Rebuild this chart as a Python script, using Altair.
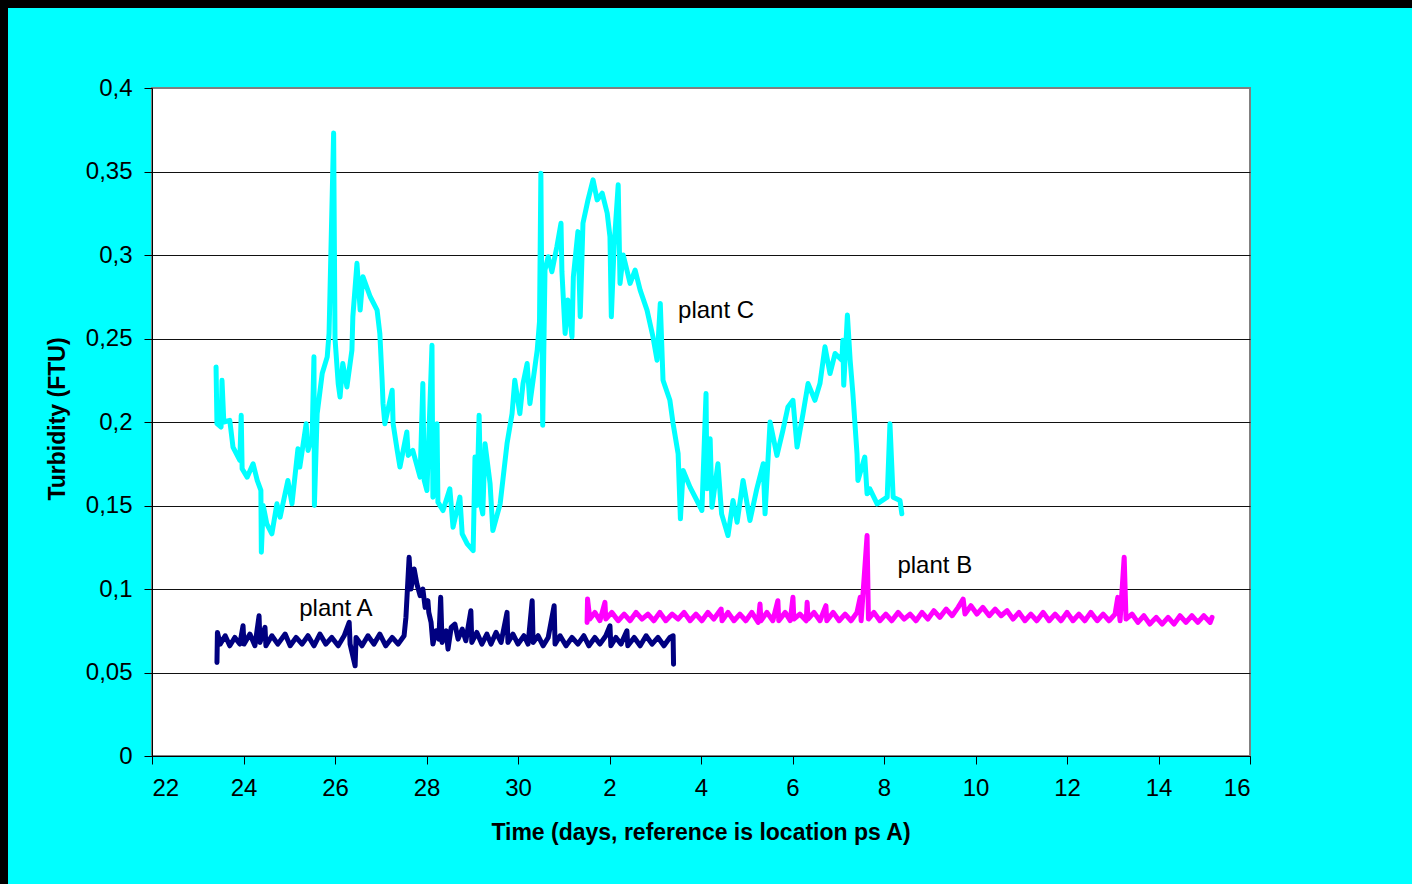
import altair as alt
import pandas as pd

# ---- data (x = day, linear scale; days past 30 wrap to the next month) ----
plant_c = [
    (23.40, .233), (23.42, .199), (23.51, .197), (23.53, .225), (23.57, .200), (23.70, .201), (23.77, .185), (23.92, .177), (23.95, .204), (23.97, .172),
    (24.08, .167), (24.21, .175), (24.30, .165), (24.38, .159), (24.39, .122), (24.43, .150), (24.51, .139), (24.62, .133), (24.73, .151), (24.80, .143),
    (24.97, .165), (25.06, .151), (25.19, .184), (25.23, .173), (25.37, .199), (25.41, .183), (25.50, .191), (25.54, .239), (25.55, .150), (25.61, .205),
    (25.72, .229), (25.83, .239), (25.87, .253), (25.97, .373), (26.00, .250), (26.07, .223), (26.11, .215), (26.17, .235), (26.26, .221), (26.37, .243),
    (26.39, .263), (26.48, .295), (26.55, .267), (26.61, .287), (26.77, .275), (26.92, .267), (26.98, .253), (27.03, .225), (27.05, .211), (27.09, .199),
    (27.25, .219), (27.27, .199), (27.36, .183), (27.42, .173), (27.57, .194), (27.60, .180), (27.70, .183), (27.86, .167), (27.92, .223), (27.95, .165),
    (28.01, .159), (28.12, .246), (28.14, .155), (28.23, .199), (28.25, .152), (28.36, .147), (28.51, .160), (28.58, .137), (28.73, .155), (28.78, .133),
    (28.89, .127), (29.02, .123), (29.06, .179), (29.10, .150), (29.15, .204), (29.19, .150), (29.23, .145), (29.28, .187), (29.39, .163), (29.45, .135),
    (29.61, .151), (29.76, .187), (29.87, .205), (29.93, .225), (30.04, .205), (30.11, .223), (30.20, .235), (30.26, .211), (30.33, .225), (30.42, .243),
    (30.47, .260), (30.50, .349), (30.54, .198), (30.59, .291), (30.66, .299), (30.74, .290), (30.85, .305), (30.94, .319), (30.96, .290), (31.03, .253),
    (31.09, .273), (31.18, .251), (31.21, .287), (31.31, .314), (31.36, .263), (31.42, .319), (31.53, .333), (31.64, .345), (31.73, .333), (31.84, .337),
    (31.95, .325), (32.01, .311), (32.04, .263), (32.10, .305), (32.19, .342), (32.23, .283), (32.30, .300), (32.38, .291), (32.45, .283), (32.56, .291),
    (32.67, .279), (32.82, .267), (32.95, .251), (33.04, .237), (33.11, .271), (33.17, .225), (33.32, .213), (33.39, .199), (33.50, .181), (33.55, .142),
    (33.61, .171), (33.76, .161), (33.91, .153), (34.02, .147), (34.11, .217), (34.13, .160), (34.20, .190), (34.24, .149), (34.37, .175), (34.45, .145),
    (34.59, .132), (34.70, .153), (34.79, .140), (34.92, .165), (35.07, .141), (35.22, .160), (35.36, .175), (35.40, .145), (35.51, .200), (35.66, .180),
    (35.79, .195), (35.90, .209), (36.01, .213), (36.10, .185), (36.23, .205), (36.34, .223), (36.49, .213), (36.60, .223), (36.71, .245), (36.82, .229),
    (36.93, .241), (37.08, .237), (37.10, .249), (37.12, .222), (37.20, .264), (37.26, .237), (37.32, .217), (37.41, .181), (37.43, .165), (37.58, .179),
    (37.63, .157), (37.69, .160), (37.85, .151), (38.07, .155), (38.13, .199), (38.20, .155), (38.35, .153), (38.39, .145),
]

plant_a = [
    (23.42, .056), (23.43, .074), (23.49, .067), (23.60, .072), (23.70, .066), (23.81, .071), (23.92, .067), (23.99, .078), (24.01, .067), (24.14, .073),
    (24.25, .066), (24.34, .084), (24.36, .068), (24.47, .077), (24.49, .066), (24.62, .072), (24.75, .067), (24.91, .073), (25.02, .066), (25.15, .071),
    (25.28, .067), (25.41, .072), (25.54, .066), (25.67, .073), (25.80, .067), (25.93, .071), (26.07, .066), (26.20, .072), (26.31, .080), (26.33, .067),
    (26.44, .054), (26.46, .071), (26.59, .066), (26.72, .072), (26.85, .067), (26.98, .073), (27.11, .066), (27.25, .071), (27.38, .067), (27.51, .072),
    (27.55, .083), (27.62, .119), (27.66, .100), (27.73, .112), (27.79, .103), (27.86, .096), (27.92, .100), (27.97, .089), (28.03, .093), (28.05, .086),
    (28.10, .080), (28.14, .067), (28.21, .075), (28.27, .070), (28.31, .095), (28.34, .068), (28.43, .075), (28.47, .064), (28.54, .077), (28.62, .079),
    (28.69, .070), (28.78, .076), (28.86, .069), (28.97, .087), (28.99, .068), (29.10, .074), (29.21, .067), (29.32, .073), (29.41, .067), (29.52, .074),
    (29.63, .068), (29.76, .086), (29.78, .068), (29.89, .073), (30.00, .067), (30.13, .072), (30.22, .067), (30.31, .093), (30.33, .068), (30.44, .072),
    (30.55, .066), (30.66, .071), (30.79, .090), (30.81, .067), (30.92, .072), (31.05, .066), (31.18, .071), (31.31, .067), (31.44, .072), (31.55, .066),
    (31.68, .071), (31.79, .067), (31.92, .072), (32.01, .078), (32.03, .066), (32.14, .071), (32.25, .067), (32.38, .075), (32.40, .066), (32.54, .071),
    (32.67, .066), (32.80, .072), (32.93, .067), (33.06, .071), (33.19, .066), (33.32, .071), (33.39, .072), (33.40, .055),
]

plant_b = [
    (31.51, .080), (31.52, .094), (31.57, .082), (31.68, .086), (31.79, .081), (31.90, .092), (31.92, .082), (32.05, .086), (32.19, .081), (32.32, .085),
    (32.45, .081), (32.58, .086), (32.71, .082), (32.84, .085), (32.97, .081), (33.10, .086), (33.23, .081), (33.37, .085), (33.50, .082), (33.63, .086),
    (33.76, .081), (33.89, .085), (34.02, .081), (34.15, .086), (34.28, .082), (34.44, .088), (34.46, .081), (34.59, .086), (34.72, .081), (34.85, .085),
    (34.98, .081), (35.11, .086), (35.25, .080), (35.29, .091), (35.31, .081), (35.44, .086), (35.57, .081), (35.68, .093), (35.70, .081), (35.84, .086),
    (35.95, .081), (36.01, .095), (36.03, .082), (36.16, .085), (36.30, .081), (36.32, .092), (36.34, .082), (36.47, .086), (36.60, .081), (36.73, .090),
    (36.75, .081), (36.89, .086), (37.02, .081), (37.15, .085), (37.28, .081), (37.41, .086), (37.48, .095), (37.50, .081), (37.63, .132), (37.66, .082),
    (37.78, .086), (37.91, .081), (38.04, .085), (38.17, .081), (38.31, .086), (38.44, .082), (38.57, .085), (38.70, .081), (38.83, .086), (38.96, .082),
    (39.09, .087), (39.22, .083), (39.36, .088), (39.49, .084), (39.62, .089), (39.73, .094), (39.77, .085), (39.90, .090), (40.03, .085), (40.16, .089),
    (40.30, .084), (40.43, .088), (40.56, .084), (40.69, .087), (40.82, .082), (40.95, .086), (41.08, .081), (41.21, .085), (41.34, .081), (41.48, .086),
    (41.61, .081), (41.74, .085), (41.87, .081), (42.00, .086), (42.13, .081), (42.26, .085), (42.39, .081), (42.52, .086), (42.66, .081), (42.79, .085),
    (42.92, .081), (43.05, .085), (43.11, .095), (43.16, .081), (43.25, .119), (43.29, .082), (43.42, .085), (43.55, .080), (43.68, .084), (43.81, .079),
    (43.95, .083), (44.08, .079), (44.21, .083), (44.34, .079), (44.47, .084), (44.60, .080), (44.73, .084), (44.86, .080), (44.99, .084), (45.13, .080),
    (45.17, .083),
]

label_text = ["plant C", "plant A", "plant B"]
label_x = [34.33, 26.02, 39.11]
label_y = [0.2665, 0.088, 0.1138]

x_ticks = [22, 24, 26, 28, 30, 32, 34, 36, 38, 40, 42, 44, 46]
y_ticks = [0, 0.05, 0.1, 0.15, 0.2, 0.25, 0.3, 0.35, 0.4]

x_title = "Time (days, reference is location ps A)"
y_title = "Turbidity (FTU)"

FONT = "Liberation Sans"

rows = []
for name, pts in [("C", plant_c), ("B", plant_b), ("A", plant_a)]:
    for i, (d, v) in enumerate(pts):
        rows.append({"plant": name, "i": i, "day": d, "turb": v})
df = pd.DataFrame(rows)

x_scale = alt.Scale(domain=[22, 46], nice=False, zero=False)
y_scale = alt.Scale(domain=[0, 0.4], nice=False)

x_axis = alt.Axis(
    values=x_ticks,
    labelExpr="datum.value > 30 ? datum.value - 30 : datum.value",
    grid=False,
    title=None,
    labelFont=FONT, labelFontSize=24, labelColor="black", labelPadding=12,
    tickSize=8, tickColor="black", domainColor="black",
)
y_axis = alt.Axis(
    values=y_ticks,
    labelExpr="replace(format(datum.value, '.2~f'), '.', ',')",
    grid=True,
    gridColor=alt.condition("datum.value >= 0.4", alt.value("#808080"), alt.value("#111111")),
    gridWidth=1,
    title=None,
    labelFont=FONT, labelFontSize=24, labelColor="black", labelPadding=12,
    tickSize=8, tickColor="black", domainColor="black",
)

lines = alt.Chart(df).mark_line(strokeWidth=5, strokeJoin="round", strokeCap="round").encode(
    x=alt.X("day:Q", scale=x_scale, axis=x_axis),
    y=alt.Y("turb:Q", scale=y_scale, axis=y_axis),
    detail="plant:N",
    order="i:Q",
    color=alt.Color(
        "plant:N",
        scale=alt.Scale(domain=["A", "B", "C"], range=["#000080", "#FF00FF", "#00FFFF"]),
        legend=None,
    ),
)

labels_df = pd.DataFrame({"text": label_text, "day": label_x, "turb": label_y})
labels = alt.Chart(labels_df).mark_text(
    font=FONT, fontSize=24, color="black", align="center", baseline="middle"
).encode(
    x=alt.X("day:Q", scale=x_scale),
    y=alt.Y("turb:Q", scale=y_scale),
    text="text:N",
)

one = pd.DataFrame({"k": [0]})
xt = alt.Chart(one).mark_text(
    text=x_title, font=FONT, fontSize=23, fontWeight="bold",
    color="black", align="center", baseline="middle",
).encode(x=alt.value(549), y=alt.value(745))
yt = alt.Chart(one).mark_text(
    text=y_title, font=FONT, fontSize=23, fontWeight="bold",
    color="black", align="center", baseline="middle", angle=270,
).encode(x=alt.value(-94), y=alt.value(331))

# decorative black strips along the top and left edges of the picture
strip_top = alt.Chart(one).mark_rect(color="black").encode(
    x=alt.value(-152), x2=alt.value(1260), y=alt.value(-88), y2=alt.value(-80)
)
strip_left = alt.Chart(one).mark_rect(color="black").encode(
    x=alt.value(-152), x2=alt.value(-144), y=alt.value(-88), y2=alt.value(796)
)

chart = alt.layer(lines, labels, xt, yt, strip_top, strip_left).properties(
    width=1098,
    height=668,
    padding={"left": 152, "top": 88, "right": 162, "bottom": 128},
    autosize=alt.AutoSizeParams(type="none"),
    background="#00FFFF",
).configure_view(
    fill="white", stroke="#808080", strokeWidth=2
)

chart.save("out.html", embed_options={"renderer": "svg", "actions": False})
